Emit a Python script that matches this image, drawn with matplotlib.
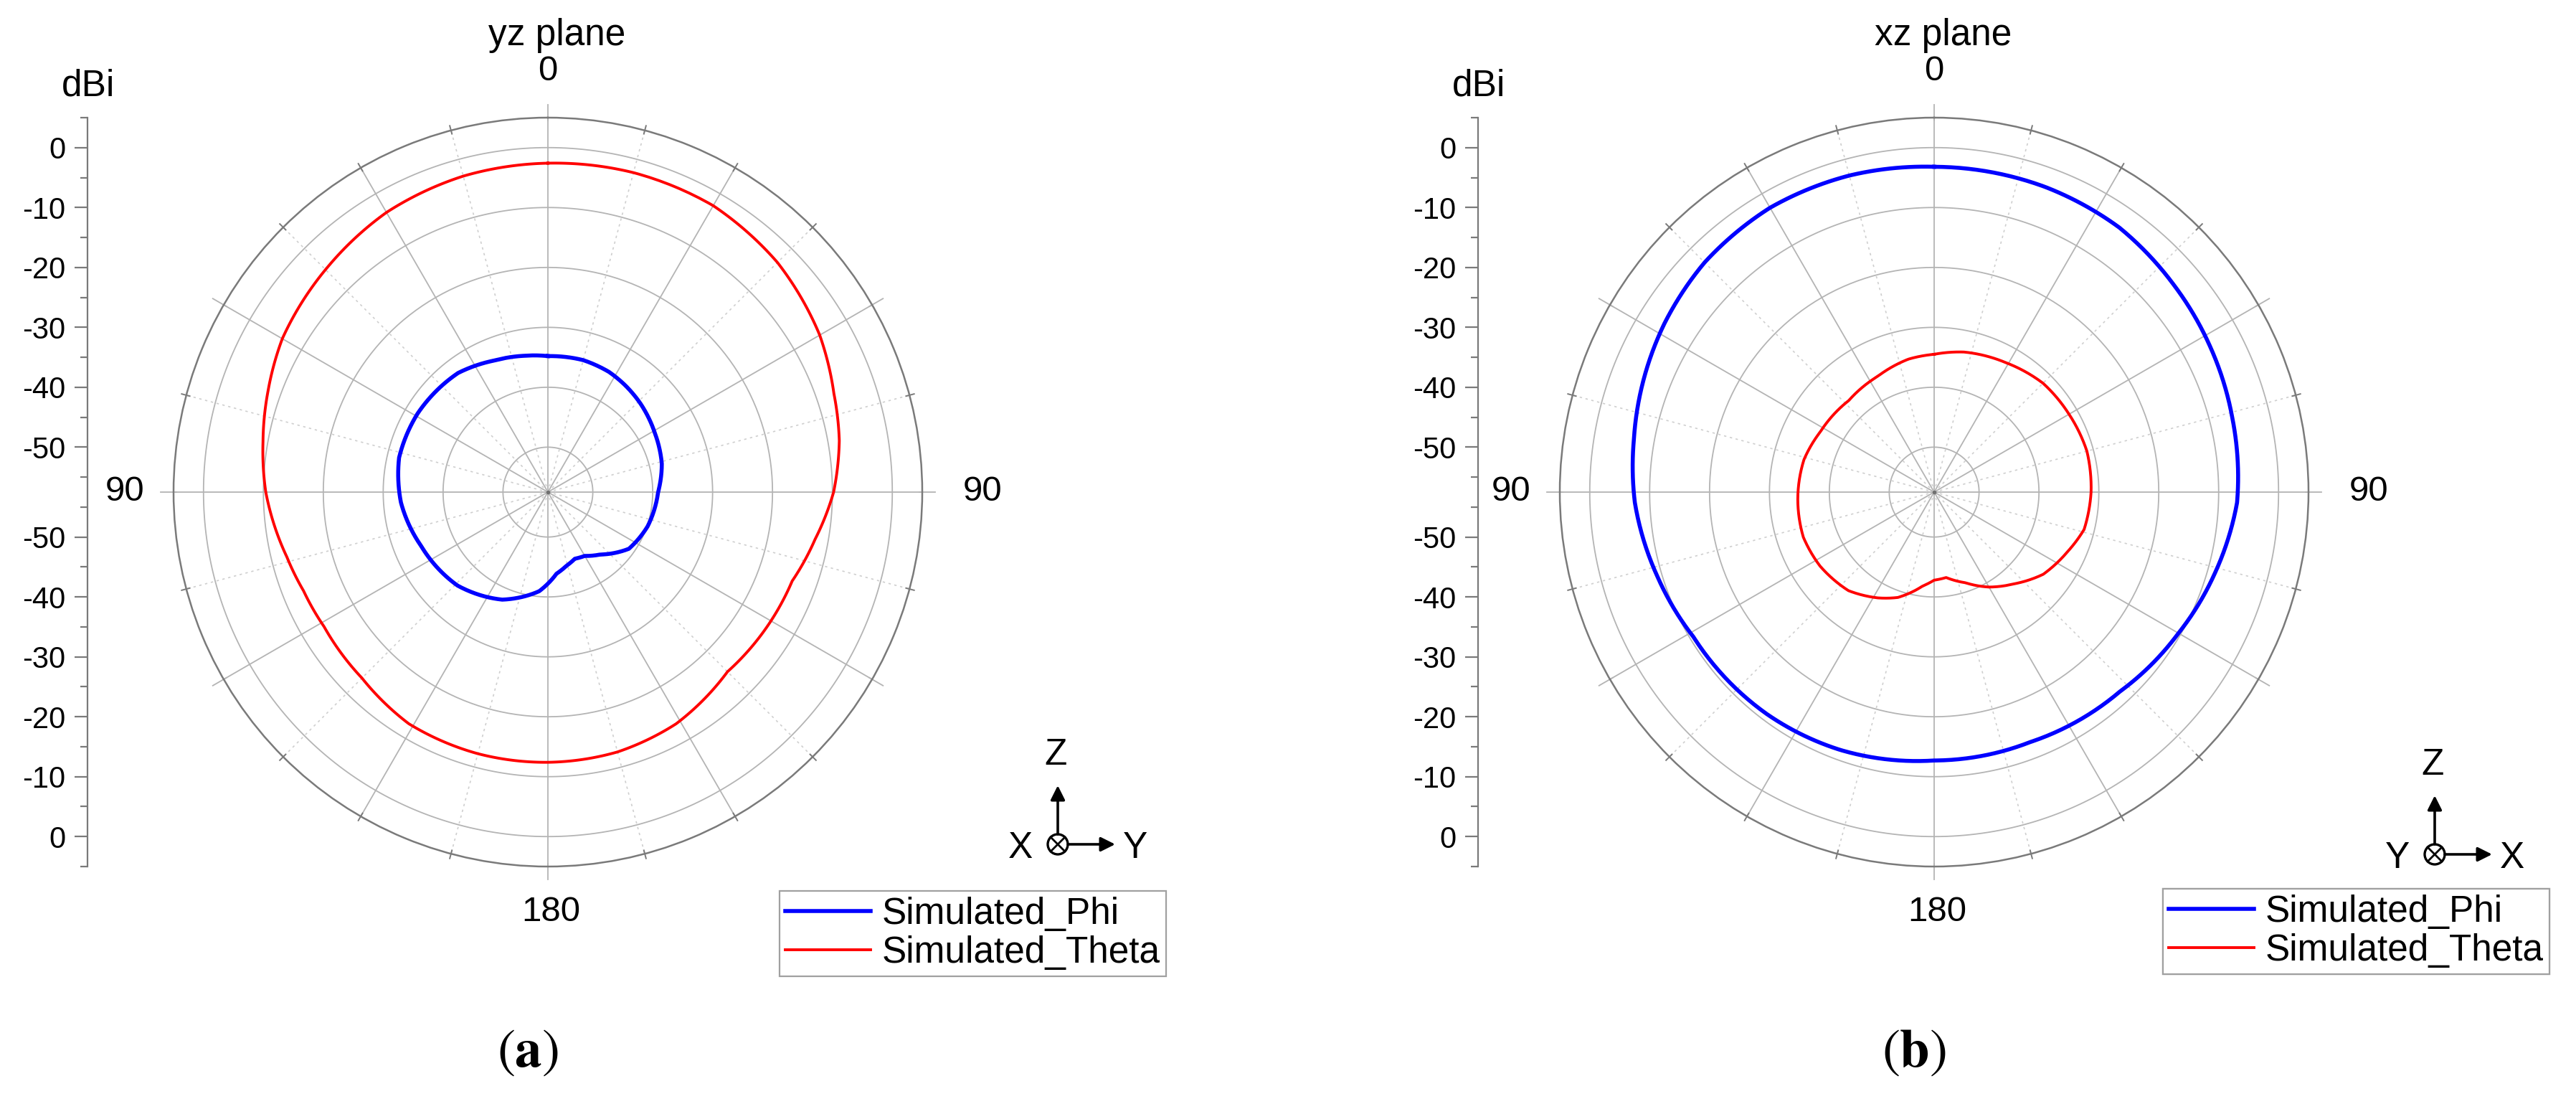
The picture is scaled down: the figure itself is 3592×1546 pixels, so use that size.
import numpy as np
import matplotlib
matplotlib.use('Agg')
import matplotlib.pyplot as plt
from matplotlib.patches import Circle

plt.rcParams['font.family'] = ['Liberation Sans', 'DejaVu Sans']
plt.rcParams['mathtext.fontset'] = 'stix'

# ---- data (angle in deg, gain in dBi) ----
ang_yz_phi = [0, 15, 27, 36, 46, 61, 76, 90, 109, 125, 140, 150, 158, 166, 174, 185, 203, 224, 247, 266, 283, 301,
              323, 338, 350]
yz_phi = [-34.8, -34.7, -35.0, -35.5, -36.1, -37.1, -37.9, -39.1, -39.9, -41.0, -43.9, -45.2, -45.5, -44.8, -43.8,
          -40.9, -38.0, -35.8, -34.5, -32.9, -32.0, -32.1, -32.6, -33.8, -34.4]

ang_yz_theta = [0, 15, 30, 45, 60, 71, 80, 90, 100, 110, 120, 135, 151, 165, 180, 195, 211, 225, 239, 248, 256,
                263, 270, 280, 290, 300, 316, 330, 345]
yz_theta = [-2.6, -2.3, -2.3, -3.3, -5.1, -7.0, -8.1, -9.8, -12.2, -14.1, -14.5, -15.1, -13.3, -12.6, -12.4, -12.3,
            -12.4, -13.6, -13.9, -13.5, -12.6, -11.5, -10.4, -9.2, -7.8, -6.3, -4.9, -3.6, -2.9]

ang_xz_phi = [0, 20, 35, 49, 62, 76, 92, 106, 120, 137, 159, 180, 200, 217, 239, 253, 268, 280, 291, 302, 315,
              330, 345]
xz_phi = [-3.2, -3.3, -3.6, -4.6, -5.4, -6.2, -6.9, -8.7, -10.4, -12.0, -12.8, -12.7, -11.7, -11.1, -10.6, -9.2,
          -7.5, -6.6, -5.5, -4.4, -3.3, -2.7, -2.8]

ang_xz_theta = [0, 12, 29, 45, 60, 75, 90, 104, 114, 127, 139, 150, 161, 172, 180, 187, 199, 208, 221, 237, 251,
                267, 284, 298, 317, 334, 349]
xz_theta = [-34.5, -33.6, -32.8, -31.8, -31.5, -31.1, -31.3, -31.7, -33.1, -34.7, -37.2, -39.2, -41.5, -43.1,
            -42.8, -41.7, -38.9, -37.5, -35.7, -34.8, -34.4, -34.7, -35.1, -36.0, -36.6, -36.0, -34.9]

rings = [-50, -40, -30, -20, -10, 0]
radial_major = [0, -10, -20, -30, -40, -50]
radial_minor = [5, -5, -15, -25, -35, -45, -55]
legend_labels = ['Simulated_Phi', 'Simulated_Theta']

W, H = 3592, 1546
R_MIN, R_MAX = -57.5, 5.0
R_OUT = 522.0
CY = 686
GRID = '#b4b4b4'
EDGE = '#7a7a7a'


def closed(ang, val):
    t = np.deg2rad(np.append(ang, ang[0] + 360))
    return t, np.append(val, val[0])


def polar_panel(fig, cx, ang_phi, phi, ang_theta, theta):
    ax = fig.add_axes([(cx - R_OUT) / W, (H - CY - R_OUT) / H, 2 * R_OUT / W, 2 * R_OUT / H],
                      projection='polar')
    ax.set_theta_zero_location('N')
    ax.set_theta_direction(-1)
    ax.set_ylim(R_MIN, R_MAX)
    ax.set_xticks([])
    ax.set_yticks([])
    ax.grid(False)
    ax.spines['polar'].set_color(EDGE)
    ax.spines['polar'].set_linewidth(1.8)

    t = np.linspace(0, 2 * np.pi, 361)
    for v in rings:
        ax.plot(t, np.full_like(t, v), color=GRID, lw=1.3, zorder=1)
    for a in range(0, 360, 15):
        rad = np.deg2rad(a)
        if a % 30 == 0:
            ax.plot([rad, rad], [R_MIN, R_MAX], color=GRID, lw=1.3, zorder=1)
        else:
            ax.plot([rad, rad], [R_MIN, R_MAX], color='#cfcfcf', lw=1.2, ls=(0, (2, 3)), zorder=1)
        if a in (0, 60, 90, 120, 180, 240, 270, 300):
            ax.plot([rad, rad], [R_MAX - 0.5, R_MAX + 2.1], color=GRID, lw=1.3, clip_on=False, zorder=1)
        else:
            ax.plot([rad, rad], [R_MAX - 0.6, R_MAX + 0.8], color=EDGE, lw=1.4, clip_on=False, zorder=1)
    ax.plot([0], [R_MIN], 'o', ms=3, color='#707070', zorder=2)

    tp, rp = closed(ang_phi, phi)
    tt, rt = closed(ang_theta, theta)
    l1, = ax.plot(tp, rp, color='#0000ff', lw=4.0, zorder=3, solid_joinstyle='round')
    l2, = ax.plot(tt, rt, color='#ff0000', lw=2.8, zorder=3, solid_joinstyle='round')
    for ln in (l1, l2):
        ln.get_path()._interpolation_steps = 40
    return ax, [l1, l2]


def radial_axis(fig, x_px):
    rax = fig.add_axes([x_px / W, (H - CY - R_OUT) / H, 0.0001, 2 * R_OUT / H])
    span = R_MAX - R_MIN
    rax.set_ylim(-span, span)
    for s in ('top', 'right', 'bottom'):
        rax.spines[s].set_visible(False)
    rax.spines['left'].set_color(EDGE)
    rax.spines['left'].set_linewidth(1.6)
    rax.set_xticks([])
    pos = [v - R_MIN for v in radial_major] + [-(v - R_MIN) for v in radial_major]
    rax.set_yticks(pos, [str(v) for v in radial_major] * 2)
    mpos = [v - R_MIN for v in radial_minor] + [-(v - R_MIN) for v in radial_minor]
    rax.set_yticks(mpos, minor=True)
    rax.tick_params(axis='y', which='major', length=13, width=1.6, color=EDGE, labelsize=30, pad=9)
    rax.tick_params(axis='y', which='minor', length=7, width=1.6, color=EDGE)
    rax.patch.set_alpha(0)
    return rax


def triad(ov, cx, cy, left_lbl, right_lbl):
    ov.add_patch(Circle((cx, cy), 14, fill=False, lw=2.4, ec='black'))
    d = 14 * 0.707
    ov.plot([cx - d, cx + d], [cy - d, cy + d], color='black', lw=2.0)
    ov.plot([cx - d, cx + d], [cy + d, cy - d], color='black', lw=2.0)
    ap = dict(arrowstyle='-|>', lw=2.6, color='black', mutation_scale=30, shrinkA=0, shrinkB=0)
    ov.annotate('', xy=(cx, cy - 82), xytext=(cx, cy - 14), arrowprops=ap)
    ov.annotate('', xy=(cx + 80, cy), xytext=(cx + 14, cy), arrowprops=ap)
    ov.text(cx - 3, cy - 125, 'Z', fontsize=37, ha='center', va='center')
    ov.text(cx - 52, cy + 5, left_lbl, fontsize=37, ha='center', va='center')
    ov.text(cx + 108, cy + 5, right_lbl, fontsize=37, ha='center', va='center')


fig = plt.figure(figsize=(W / 100, H / 100), dpi=100)

panels = [
    dict(cx=764, axis_x=122, title='yz plane', phi=(ang_yz_phi, yz_phi), theta=(ang_yz_theta, yz_theta),
         leg=(1087, 1242), triad=(1475, 1177, 'X', 'Y'), tag='a'),
    dict(cx=2697, axis_x=2061, title='xz plane', phi=(ang_xz_phi, xz_phi), theta=(ang_xz_theta, xz_theta),
         leg=(3016, 1239), triad=(3395, 1191, 'Y', 'X'), tag='b'),
]

ov = fig.add_axes([0, 0, 1, 1], zorder=5)
ov.set_xlim(0, W)
ov.set_ylim(H, 0)
ov.axis('off')
ov.patch.set_alpha(0)

for p in panels:
    cx = p['cx']
    ax, lines = polar_panel(fig, cx, *p['phi'], *p['theta'])
    radial_axis(fig, p['axis_x'])

    ov.text(cx + 13, 49, p['title'], fontsize=37, ha='center', va='center')
    ov.text(cx, 99, '0', fontsize=35.5, ha='center', va='center')
    ov.text(cx - 590, CY, '90', fontsize=35.5, ha='center', va='center')
    ov.text(cx + 606, CY, '90', fontsize=35.5, ha='center', va='center')
    ov.text(cx + 4, 1271, '180', fontsize=35.5, ha='center', va='center')
    ov.text(p['axis_x'] + 1, 120, 'dBi', fontsize=37, ha='center', va='center')
    ov.text(cx - 28, 1468, r'$(\mathbf{%s})$' % p['tag'], fontsize=54, ha='center', va='center')

    triad(ov, *p['triad'])

    lx, ly = p['leg']
    leg = ov.legend(lines, legend_labels, loc='upper left', bbox_to_anchor=(lx / W, 1 - ly / H),
                    bbox_transform=fig.transFigure, fontsize=37, frameon=True, fancybox=False,
                    edgecolor='#a0a0a0', framealpha=1, borderpad=0.15, borderaxespad=0,
                    handlelength=2.33, handletextpad=0.3, labelspacing=0.1)
    leg.get_frame().set_linewidth(1.6)
    ov.add_artist(leg)

fig.savefig('out.png', dpi=100, facecolor='white')
